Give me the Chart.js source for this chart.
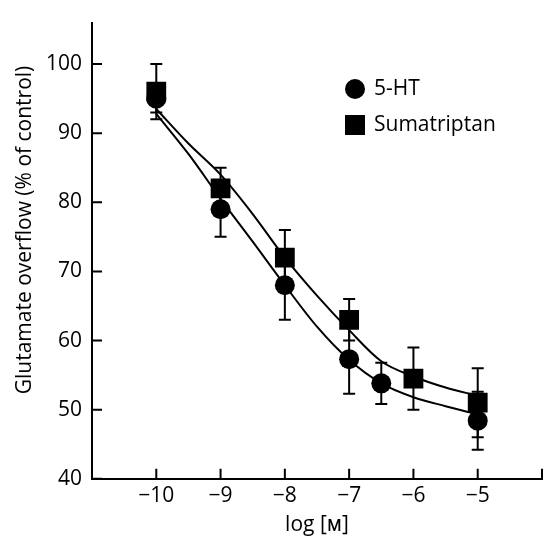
<!DOCTYPE html>
<html>
<head>
  <meta charset="UTF-8">
  <title>Glutamate overflow</title>
  <script src="https://cdn.jsdelivr.net/npm/chart.js"></script>
  <style>
    html, body { margin: 0; padding: 0; background: #fff; }
    #wrap { width: 556px; height: 536px; }
  </style>
</head>
<body>
  <div id="wrap"><canvas id="chart"></canvas></div>
  <script>
    // measured points (log M, % of control) and SEM
    const htX = [-10, -9, -8, -7, -6.5, -5];
    const htY = [95, 79, 68, 57.3, 53.8, 48.4];
    const htErr = [2, 4, 5, 5, 3, 4.2];

    const sumaX = [-10, -9, -8, -7, -6, -5];
    const sumaY = [96, 82, 72, 63, 54.5, 51];
    const sumaErr = [4, 3, 4, 3, 4.5, 5];

    // fitted curves
    const fitX = [-10, -9.5, -9, -8.5, -8, -7.5, -7, -6.5, -6, -5.5, -5];
    const fitHT = [92.8, 87, 80.5, 74.3, 68, 62, 57.2, 53.8, 51.8, 50.5, 49.3];
    const fitSuma = [93.5, 88.5, 84, 78.3, 72, 66.5, 61.5, 57, 54.8, 53.2, 52];

    const xTicks = [-10, -9, -8, -7, -6, -5, -4];
    const yTicks = [40, 50, 60, 70, 80, 90, 100];
    const yTitle = 'Glutamate overflow (% of control)';

    const FONT = "'Open Sans', 'Noto Sans', sans-serif";
    const pts = (xs, ys) => xs.map((x, i) => ({ x: x, y: ys[i] }));

    const errorBars = {
      id: 'errorBars',
      afterDatasetsDraw(chart) {
        const { ctx, scales: { x, y } } = chart;
        ctx.save();
        ctx.strokeStyle = '#000';
        ctx.lineWidth = 2;
        const draw = (xs, ys, es) => {
          xs.forEach((v, i) => {
            const px = x.getPixelForValue(v);
            const top = y.getPixelForValue(ys[i] + es[i]);
            const bot = y.getPixelForValue(ys[i] - es[i]);
            ctx.beginPath();
            ctx.moveTo(px, top); ctx.lineTo(px, bot);
            ctx.moveTo(px - 6, top); ctx.lineTo(px + 6, top);
            ctx.moveTo(px - 6, bot); ctx.lineTo(px + 6, bot);
            ctx.stroke();
          });
        };
        draw(htX, htY, htErr);
        draw(sumaX, sumaY, sumaErr);

        // inward tick marks
        const a = chart.chartArea;
        ctx.beginPath();
        x.ticks.forEach(t => {
          const px = x.getPixelForValue(t.value);
          ctx.moveTo(px, a.bottom); ctx.lineTo(px, a.bottom - 10);
        });
        y.ticks.forEach(t => {
          const py = y.getPixelForValue(t.value);
          ctx.moveTo(a.left, py); ctx.lineTo(a.left + 10, py);
        });
        ctx.stroke();

        // legend
        ctx.fillStyle = '#000';
        ctx.beginPath();
        ctx.arc(355, 89, 10, 0, Math.PI * 2);
        ctx.fill();
        ctx.fillRect(345, 115, 20, 20);
        ctx.font = '21px ' + FONT;
        ctx.textBaseline = 'middle';
        ctx.textAlign = 'left';
        ctx.fillText('5-HT', 374, 89);
        ctx.fillText('Sumatriptan', 374, 125);

        // y axis title (sits a little above the plot centre in the original)
        ctx.translate(25, 230);
        ctx.rotate(-Math.PI / 2);
        ctx.textAlign = 'center';
        ctx.fillText(yTitle, 0, 0);
        ctx.restore();
      }
    };

    new Chart(document.getElementById('chart'), {
      type: 'scatter',
      data: {
        datasets: [
          { label: '5-HT fit', data: pts(fitX, fitHT), showLine: true, borderColor: '#000', borderWidth: 2, pointRadius: 0, tension: 0.4, cubicInterpolationMode: 'monotone' },
          { label: 'Sumatriptan fit', data: pts(fitX, fitSuma), showLine: true, borderColor: '#000', borderWidth: 2, pointRadius: 0, tension: 0.4, cubicInterpolationMode: 'monotone' },
          { label: '5-HT', data: pts(htX, htY), pointStyle: 'circle', pointRadius: 10, backgroundColor: '#000', borderColor: '#000', borderWidth: 0 },
          { label: 'Sumatriptan', data: pts(sumaX, sumaY), pointStyle: 'rect', pointRadius: 14, backgroundColor: '#000', borderColor: '#000', borderWidth: 0 }
        ]
      },
      options: {
        responsive: true,
        maintainAspectRatio: false,
        animation: false,
        layout: { padding: { top: 12, right: 4, left: 0, bottom: 0 } },
        plugins: { legend: { display: false }, tooltip: { enabled: false } },
        scales: {
          x: {
            type: 'linear', min: -11, max: -4,
            afterBuildTicks: s => { s.ticks = xTicks.map(v => ({ value: v })); },
            grid: { display: false, drawTicks: false },
            border: { display: true, color: '#000', width: 2 },
            ticks: {
              color: '#000', padding: 5, font: { family: FONT, size: 21 },
              maxRotation: 0, autoSkip: false,
              callback: v => v === -4 ? '' : '\u2212' + Math.abs(v)
            },
            title: { display: true, text: 'log [\u1D0D]', color: '#000', font: { family: FONT, size: 21, lineHeight: 1.05 }, padding: { top: 0, bottom: 0 } }
          },
          y: {
            min: 40, max: 106,
            afterBuildTicks: s => { s.ticks = yTicks.map(v => ({ value: v })); },
            afterFit: s => { s.width = 92; },
            grid: { display: false, drawTicks: false },
            border: { display: true, color: '#000', width: 2 },
            ticks: { color: '#000', padding: 10, font: { family: FONT, size: 21 } }
          }
        }
      },
      plugins: [errorBars]
    });
  </script>
</body>
</html>
